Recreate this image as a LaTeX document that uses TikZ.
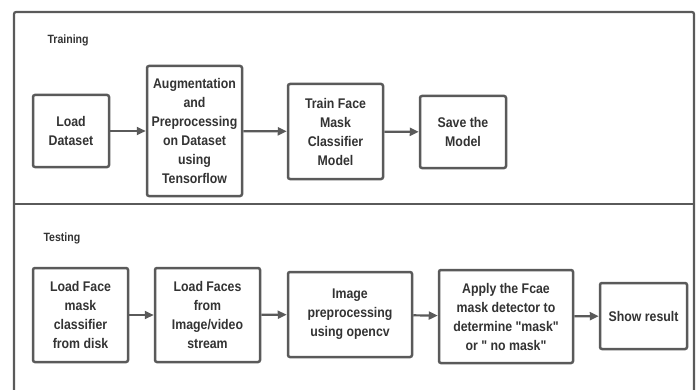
\documentclass[tikz,border=0pt]{standalone}
\usepackage{fontspec}
\setmainfont[FakeStretch=0.88]{Liberation Sans}
\newfontfamily\boxfont[FakeStretch=0.88]{Liberation Sans}
\usepackage{xcolor}
\usepackage{tikz}
\usetikzlibrary{arrows.meta,positioning}
\definecolor{linegray}{HTML}{5A5A5A}
\definecolor{textgray}{HTML}{333333}

\begin{document}
\begin{tikzpicture}[x=1pt, y=-1pt,
    box/.style={draw=linegray, line width=2.5pt, rounded corners=2pt, fill=white, align=center,
        inner sep=0pt, font=\boxfont\fontsize{14}{19}\selectfont\bfseries, text=textgray},
    flow/.style={draw=linegray, line width=2.2pt, -{Triangle[length=9pt,width=8pt]}},
    frame/.style={draw=linegray, line width=2.2pt, rounded corners=2pt},
    title/.style={anchor=west, font=\boxfont\fontsize{12}{14}\selectfont\bfseries, text=textgray}]
    \useasboundingbox (0,0) rectangle (700,390);

    % outer frame and divider
    \draw [frame] (14,395) -- (14,12) -- (694,12) -- (694,395);
    \draw [frame] (14,204) -- (694,204);

    \node [title] (TRN) at (44,40) {Training};
    \node [title] (TST) at (40,238) {Testing};

    % training
    \node [box, minimum width=76pt, minimum height=72pt] (LD) at (71,131) {Load\\Dataset};
    \node [box, minimum width=95pt, minimum height=130pt] (AUG) at (194.5,131) {Augmentation\\and\\Preprocessing\\on Dataset\\using\\Tensorflow};
    \node [box, minimum width=95pt, minimum height=95pt] (TR) at (335.5,131.5) {Train Face\\Mask\\Classifier\\Model};
    \node [box, minimum width=86pt, minimum height=72pt] (SV) at (463,132) {Save the\\Model};
    \draw [flow] (LD) -- (AUG);
    \draw [flow] (AUG) -- (TR);
    \draw [flow] (TR) -- (SV);

    % testing
    \node [box, minimum width=95pt, minimum height=94pt] (LF) at (80.5,315) {Load Face\\mask\\classifier\\from disk};
    \node [box, minimum width=105pt, minimum height=94pt] (LFS) at (207.5,315) {Load Faces\\from\\Image/video\\stream};
    \node [box, minimum width=124pt, minimum height=85pt] (IMG) at (350,314.5) {Image\\preprocessing\\using opencv};
    \node [box, minimum width=134pt, minimum height=93pt] (APP) at (506,316.5) {Apply the Fcae\\mask detector to\\determine "mask"\\or " no mask"};
    \node [box, minimum width=87pt, minimum height=66pt] (SH) at (643.5,316) {Show result};
    \draw [flow] (LF) -- (LFS);
    \draw [flow] (LFS) -- (IMG);
    \draw [flow] (IMG) -- (APP);
    \draw [flow] (APP) -- (SH);

\end{tikzpicture}
\end{document}
